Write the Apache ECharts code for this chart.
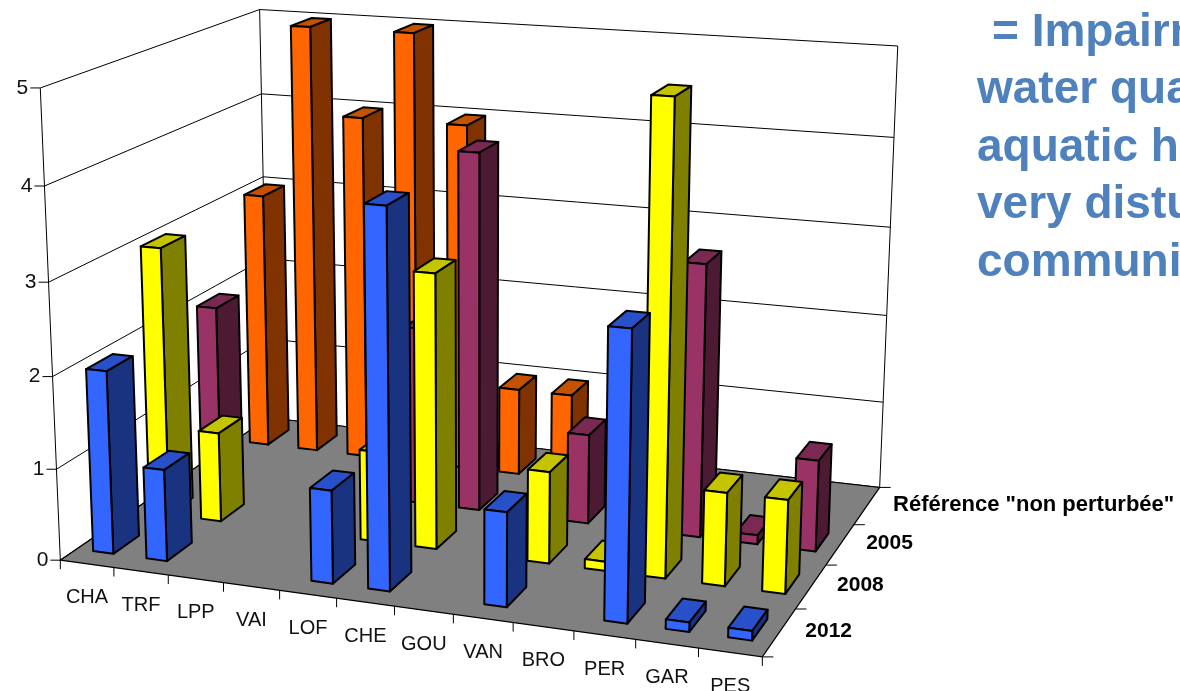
<!DOCTYPE html>
<html>
<head>
<meta charset="utf-8">
<style>html,body{margin:0;padding:0;background:#fff;overflow:hidden}#chart{width:1180px;height:691px}</style>
<script src="https://cdn.jsdelivr.net/npm/echarts@6/dist/echarts.min.js"></script>
</head>
<body>
<div id="chart"></div>
<script>
// Site codes along the front edge, sampling campaigns along the depth edge (front to back)
const categories = ['CHA','TRF','LPP','VAI','LOF','CHE','GOU','VAN','BRO','PER','GAR','PES'];
const depthLabels = ['2012','2008','2005','Référence "non perturbée"'];
const valueTicks = [0,1,2,3,4,5];

const values2012 = [2,1,0,0,1,4,0,1,0,3,0.1,0.1];
const values2008 = [3,1,0,0,1,3,0,1,0.1,5,1,1];
const values2005 = [2,0,0,0,2,4,0,1,0,3,0.1,1];
const valuesRef  = [3,5,4,5,4,1,1,0,0,0,0,0];

const noteLines = ['= Impairment of','water quality,','aquatic habitat,','very disturbed','communities'];

// Face colours: front, top, side
const palette = {
  blue:   ['#3366FF','#2850C8','#1A3380'],
  yellow: ['#FFFF00','#C4C400','#808000'],
  maroon: ['#993366','#7A2952','#4D1A33'],
  orange: ['#FF6600','#C45200','#803300']
};

// Anchors of the 3D box on screen: [u, v, w] -> [x, y]
const anchors = [
  [[0,0,0],[60,561]], [[1,0,0],[762,657]], [[1,1,0],[880,487]], [[0,1,0],[269,417]],
  [[0,0,1],[41,87]],  [[0,1,1],[259,9]],   [[1,1,1],[898,45]],
  [[0,0,0.8],[45,187]], [[0,0,0.6],[49,282]], [[0,0,0.4],[52,376]], [[0,0,0.2],[56,469]],
  [[0,1,0.8],[261,94]], [[0,1,0.6],[263,178]],
  [[1,1,0.8],[894,139]], [[1,1,0.6],[890,227]]
];

// Least-squares camera matrix for the box, solved from the anchors
function solveCamera(pts) {
  const n = 11, A = Array.from({length:n},()=>new Array(n+1).fill(0));
  const add = (r, b) => {
    for (let i=0;i<n;i++){ for (let j=0;j<n;j++) A[i][j]+=r[i]*r[j]; A[i][n]+=r[i]*b; }
  };
  pts.forEach(([[X,Y,Z],[x,y]])=>{
    add([X,Y,Z,1,0,0,0,0,-x*X,-x*Y,-x*Z],x);
    add([0,0,0,0,X,Y,Z,1,-y*X,-y*Y,-y*Z],y);
  });
  for (let c=0;c<n;c++){
    let p=c; for(let r=c+1;r<n;r++) if(Math.abs(A[r][c])>Math.abs(A[p][c])) p=r;
    [A[c],A[p]]=[A[p],A[c]];
    for(let r=0;r<n;r++){ if(r===c) continue; const f=A[r][c]/A[c][c]; for(let k=c;k<=n;k++) A[r][k]-=f*A[c][k]; }
  }
  return A.map((row,i)=>row[n]/row[i]);
}
const cam = solveCamera(anchors);
function project(u,v,w){
  const d = cam[8]*u+cam[9]*v+cam[10]*w+1;
  return [(cam[0]*u+cam[1]*v+cam[2]*w+cam[3])/d,(cam[4]*u+cam[5]*v+cam[6]*w+cam[7])/d];
}

const BAR_U = 0.38;   // bar width as a share of one site step
const BAR_V = 0.45;   // bar depth as a share of one row step
const ROWS = depthLabels.length;
const lineStyle = {stroke:'#000',lineWidth:2,lineJoin:'round'};

// Draws one bar as three polygons; site and value go through the hidden cartesian axes
function renderBar(colors, params, api){
  const val = api.value(2);
  if (!val) return null;
  const cs = params.coordSys;
  const p = api.coord([api.value(0), val]);
  const step = api.size([1,0])[0]/cs.width;
  const uc = (p[0]-cs.x)/cs.width;
  const w = (cs.y+cs.height-p[1])/cs.height;
  const vc = (api.value(1)+0.5)/ROWS;
  const hu = step*BAR_U/2, hv = BAR_V/ROWS/2;
  const u0=uc-hu,u1=uc+hu,v0=vc-hv,v1=vc+hv;
  const poly=(pts,fill)=>({type:'polygon',shape:{points:pts.map(q=>project(q[0],q[1],q[2]))},
    style:Object.assign({fill},lineStyle),silent:true});
  return {type:'group',children:[
    poly([[u0,v0,w],[u1,v0,w],[u1,v1,w],[u0,v1,w]],colors[1]),
    poly([[u1,v0,0],[u1,v1,0],[u1,v1,w],[u1,v0,w]],colors[2]),
    poly([[u0,v0,0],[u1,v0,0],[u1,v0,w],[u0,v0,w]],colors[0])
  ]};
}

// Walls, floor, grid lines, ticks and axis labels of the box
function renderFrame(params, api){
  const kids=[];
  const line=(a,b,lw)=>kids.push({type:'line',shape:{x1:a[0],y1:a[1],x2:b[0],y2:b[1]},
    style:{stroke:'#000',lineWidth:lw||1},silent:true});
  const text=(s,x,y,size,weight,align,fill)=>kids.push({type:'text',x,y,silent:true,
    style:{text:s,fontFamily:'"Liberation Sans",Arial,sans-serif',fontSize:size,fontWeight:weight,
      fill:fill||'#111',align,verticalAlign:'middle'}});
  const top=valueTicks[valueTicks.length-1];
  valueTicks.forEach(t=>{
    const w=t/top, a=project(0,0,w), b=project(0,1,w), c=project(1,1,w);
    line(a,b); line(b,c);
    line(a,[a[0]-10,a[1]]);
    text(String(t),a[0]-12,a[1],21,'normal','right');
  });
  line(project(0,0,0),project(0,0,1));
  line(project(0,1,0),project(0,1,1));
  line(project(1,1,0),project(1,1,1));
  kids.push({type:'polygon',shape:{points:[[0,0],[1,0],[1,1],[0,1]].map(q=>project(q[0],q[1],0))},
    style:{fill:'#808080',stroke:'#000',lineWidth:1.2},silent:true});
  categories.forEach((c,i)=>{
    const m=project((i+0.5)/categories.length,0,0);
    text(c,m[0],m[1]+34,20,'normal','center');
  });
  for(let i=0;i<=categories.length;i++){
    const a=project(i/categories.length,0,0);
    line(a,[a[0],a[1]+9]);
  }
  for(let r=0;r<=ROWS;r++){
    const a=project(1,r/ROWS,0);
    line(a,[a[0]+11,a[1]]);
  }
  depthLabels.forEach((d,r)=>{
    const m=project(1,(r+0.5)/ROWS,0);
    text(d,m[0]+26,m[1]-1,r===ROWS-1?22:21,'bold','left','#000');
  });
  return {type:'group',children:kids};
}

function barSeries(values,row,colors){
  return {type:'custom',coordinateSystem:'cartesian2d',clip:false,silent:true,
    encode:{x:0,y:2},
    data:values.map((v,i)=>[i,row,v]),
    renderItem:(p,a)=>renderBar(colors,p,a)};
}

const chart = echarts.init(document.getElementById('chart'),null,{renderer:'canvas'});
chart.setOption({
  animation:false,
  backgroundColor:'#fff',
  grid:{left:0,right:0,top:0,bottom:0},
  xAxis:{type:'category',data:categories,show:false},
  yAxis:{type:'value',min:0,max:5,interval:1,show:false},
  graphic:noteLines.map((s,i)=>({type:'text',left:i===0?992:977,top:10+i*57.5,silent:true,
    style:{text:s,fontFamily:'"Liberation Sans",Arial,sans-serif',fontSize:46,fontWeight:'bold',fill:'#4F81BD'}})),
  series:[
    {type:'custom',coordinateSystem:'cartesian2d',clip:false,silent:true,encode:{x:0,y:2},data:[[0,0,0]],renderItem:renderFrame},
    barSeries(valuesRef,3,palette.orange),
    barSeries(values2005,2,palette.maroon),
    barSeries(values2008,1,palette.yellow),
    barSeries(values2012,0,palette.blue)
  ]
});
</script>
</body>
</html>
